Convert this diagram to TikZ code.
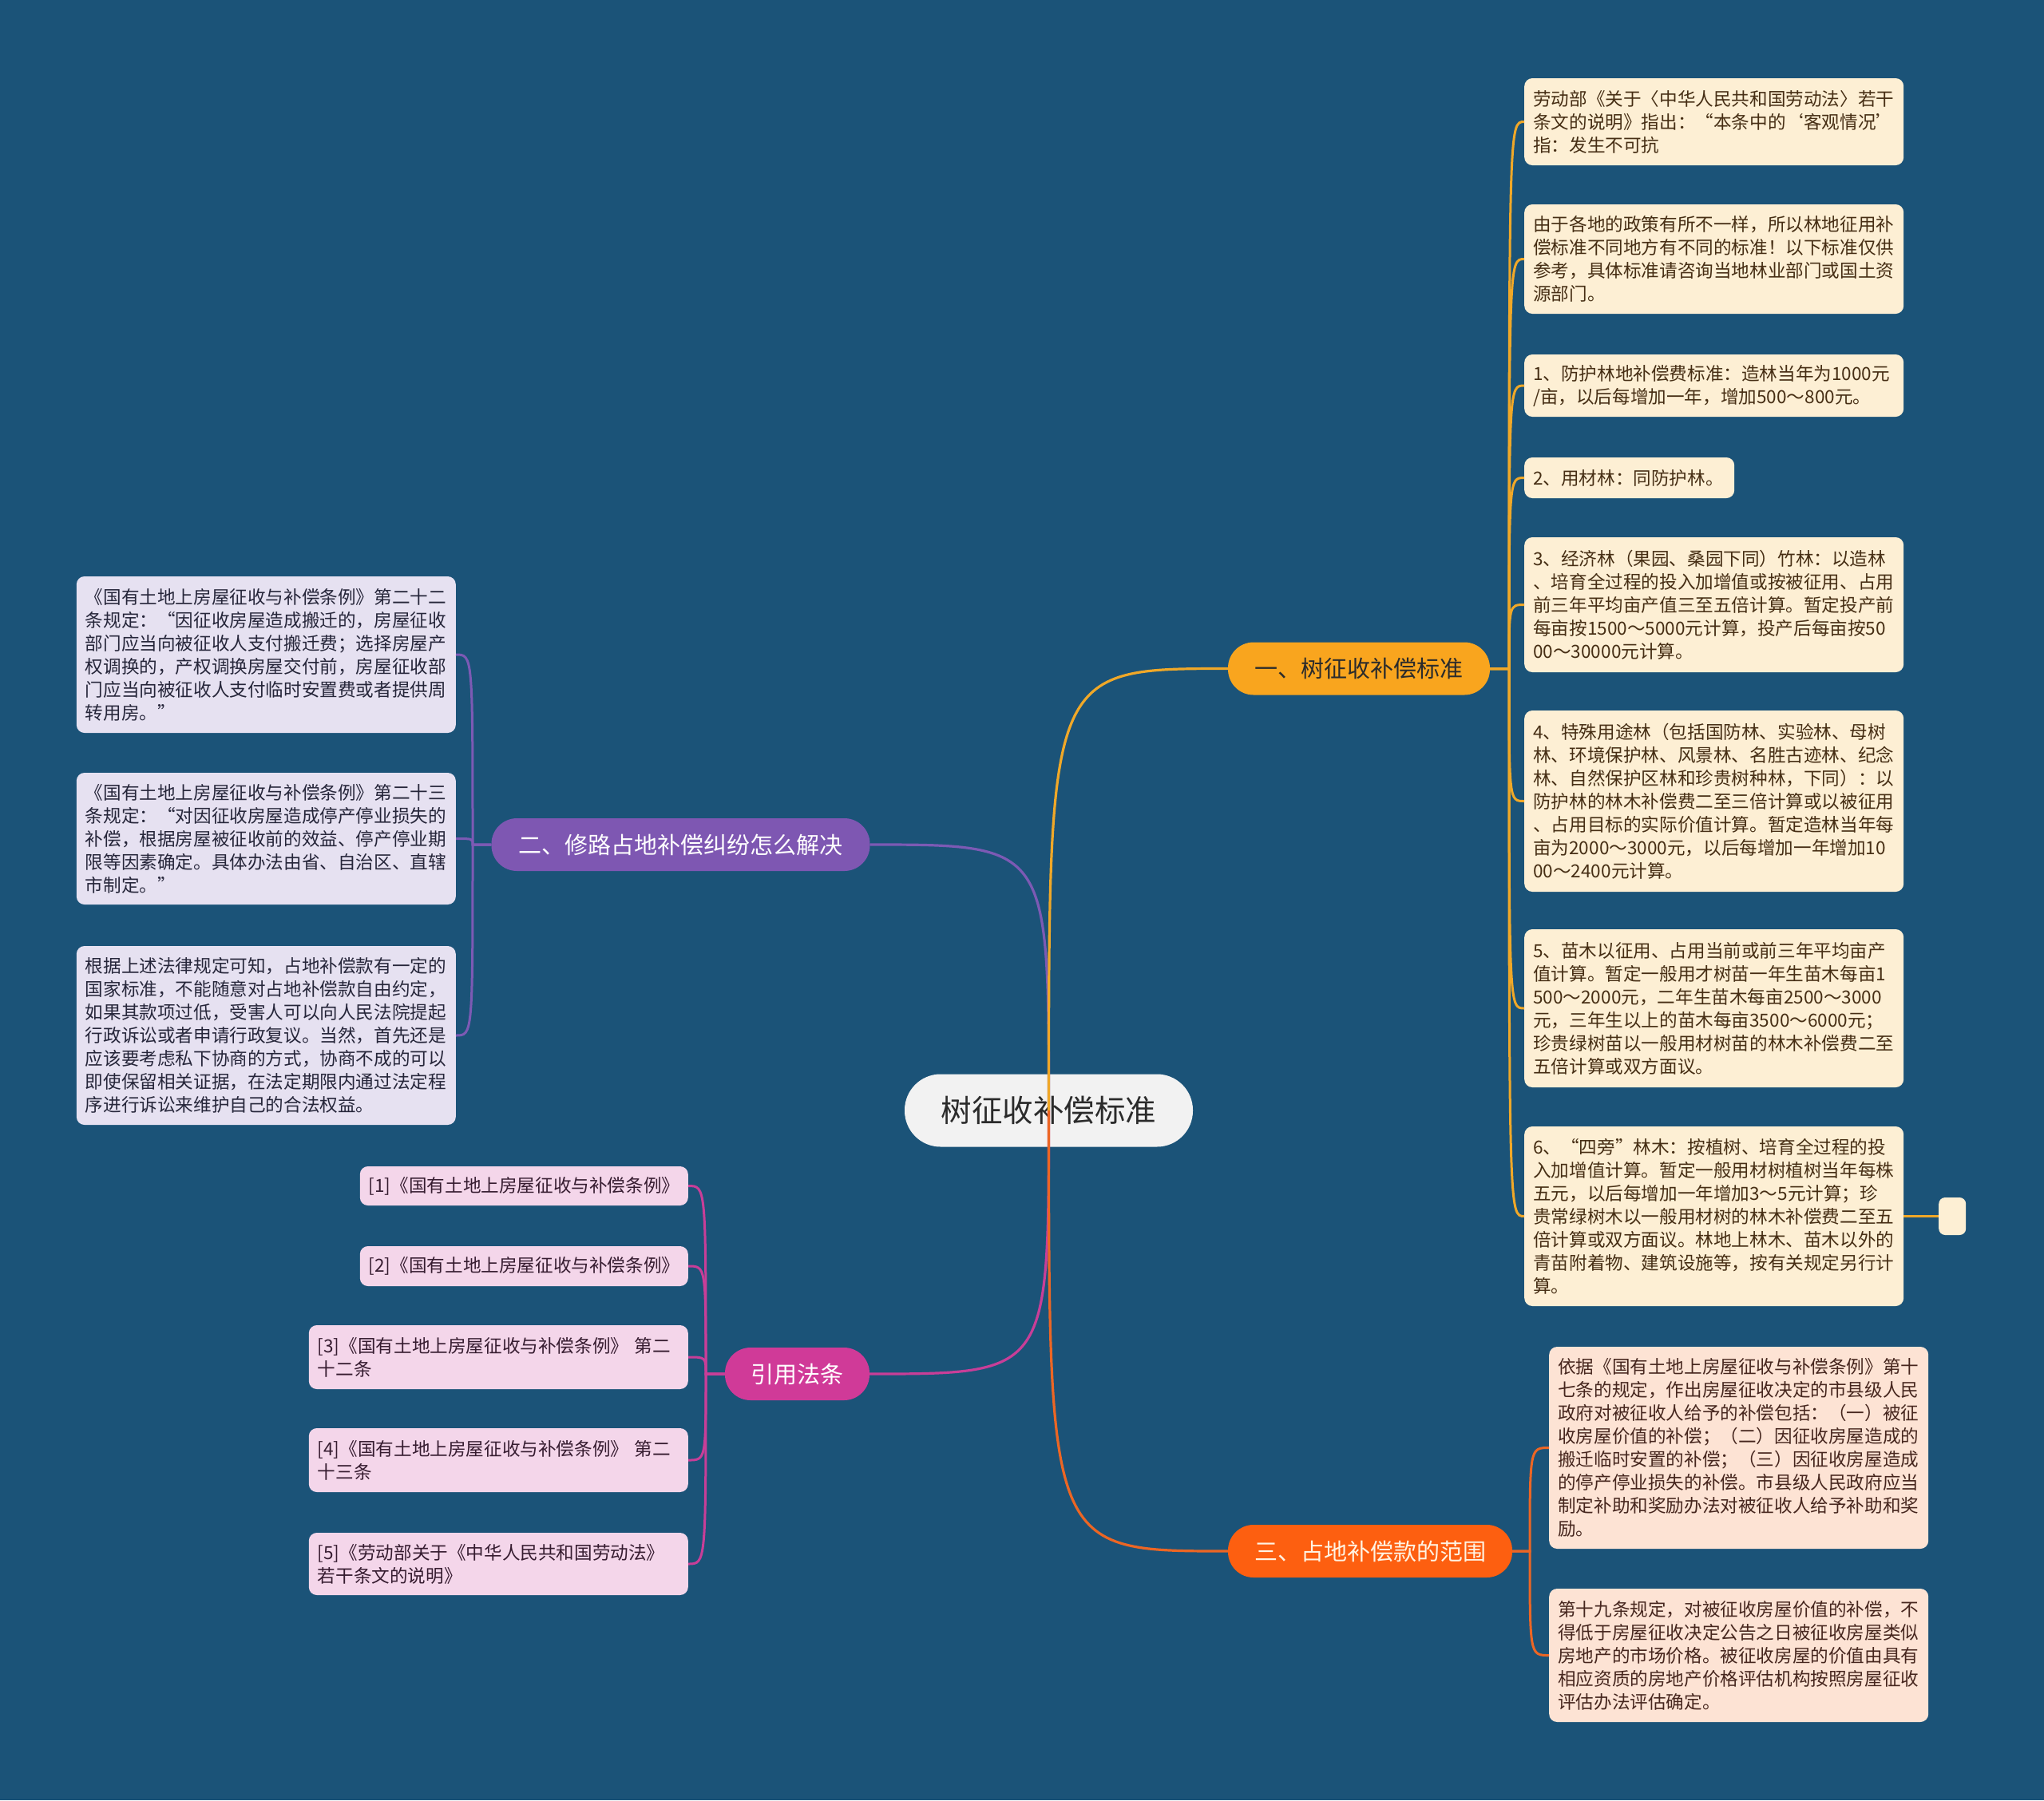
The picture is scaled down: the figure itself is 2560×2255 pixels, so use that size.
\documentclass[tikz,border=0pt]{standalone}
\usepackage{fontspec}
\setmainfont{Noto Sans CJK SC}
\definecolor{bgc}{RGB}{27,83,120}
\definecolor{rootfill}{RGB}{242,242,242}
\definecolor{roottext}{RGB}{43,43,43}
\definecolor{cA}{RGB}{249,165,30}
\definecolor{cB}{RGB}{126,87,178}
\definecolor{cC}{RGB}{253,95,16}
\definecolor{cD}{RGB}{208,58,152}
\definecolor{lineA}{RGB}{240,168,40}
\definecolor{lineB}{RGB}{124,90,180}
\definecolor{lineC}{RGB}{236,102,36}
\definecolor{lineD}{RGB}{200,62,152}
\definecolor{leafA}{RGB}{253,239,212}
\definecolor{leafAt}{RGB}{70,46,20}
\definecolor{leafB}{RGB}{230,225,241}
\definecolor{leafBt}{RGB}{38,38,58}
\definecolor{leafC}{RGB}{253,227,212}
\definecolor{leafCt}{RGB}{70,38,30}
\definecolor{leafD}{RGB}{244,214,234}
\definecolor{leafDt}{RGB}{54,28,48}
\begin{document}
\begin{tikzpicture}[x=1pt,y=-1pt,
  rootbox/.style={rectangle, rounded corners=45pt, fill=rootfill, text=roottext,
    minimum width=361pt, minimum height=91pt, inner sep=0pt,
    font=\fontsize{38.5}{44}\selectfont},
  branchbox/.style={rectangle, rounded corners=32pt, minimum height=66pt, inner sep=0pt,
    font=\fontsize{29}{34}\selectfont},
  leaf/.style={rectangle, rounded corners=10pt, inner xsep=11pt, inner ysep=8pt,
    align=left, text width=453pt, font=\fontsize{22.6}{29}\selectfont},
  leafa/.style={leaf, fill=leafA, text=leafAt, anchor=west},
  leafb/.style={leaf, fill=leafB, text=leafBt, anchor=east},
  leafc/.style={leaf, fill=leafC, text=leafCt, anchor=west},
  leafd/.style={leaf, fill=leafD, text=leafDt, anchor=east},
  link/.style={line width=3pt},
  rootlink/.style={line width=3.2pt}
]
\useasboundingbox (0,0) rectangle (2560,2255);
\fill[bgc] (0,0) rectangle (2560,2255);

% ---------- root and main branches ----------
\node[rootbox] (root) at (1313.5,1391) {树征收补偿标准};
\node[branchbox, fill=cA, text=roottext, minimum width=328pt] (b1) at (1702,837.5) {一、树征收补偿标准};
\node[branchbox, fill=cB, text=white, minimum width=474pt] (b2) at (852.5,1058) {二、修路占地补偿纠纷怎么解决};
\node[branchbox, fill=cC, text={rgb,255:red,255;green,243;blue,226}, minimum width=356pt] (b3) at (1716,1943) {三、占地补偿款的范围};
\node[branchbox, fill=cD, text=white, minimum width=181pt] (b4) at (998.5,1721) {引用法条};

% ---------- branch 1 leaves ----------
\node[leafa, minimum height=109pt] (a1) at (1909,152.5) {劳动部《关于〈中华人民共和国劳动法〉若干\\条文的说明》指出：“本条中的‘客观情况’\\指：发生不可抗};
\node[leafa, minimum height=137pt] (a2) at (1909,324.5) {由于各地的政策有所不一样，所以林地征用补\\偿标准不同地方有不同的标准！以下标准仅供\\参考，具体标准请咨询当地林业部门或国土资\\源部门。};
\node[leafa, minimum height=78pt] (a3) at (1909,483) {1、防护林地补偿费标准：造林当年为1000元\\/亩，以后每增加一年，增加500～800元。};
\node[leafa, minimum height=51pt, text width=241pt] (a4) at (1909,598.5) {2、用材林：同防护林。};
\node[leafa, minimum height=169pt] (a5) at (1909,757.5) {3、经济林（果园、桑园下同）竹林：以造林\\、培育全过程的投入加增值或按被征用、占用\\前三年平均亩产值三至五倍计算。暂定投产前\\每亩按1500～5000元计算，投产后每亩按50\\00～30000元计算。};
\node[leafa, minimum height=227pt] (a6) at (1909,1003.5) {4、特殊用途林（包括国防林、实验林、母树\\林、环境保护林、风景林、名胜古迹林、纪念\\林、自然保护区林和珍贵树种林，下同）：以\\防护林的林木补偿费二至三倍计算或以被征用\\、占用目标的实际价值计算。暂定造林当年每\\亩为2000～3000元，以后每增加一年增加10\\00～2400元计算。};
\node[leafa, minimum height=198pt] (a7) at (1909,1263) {5、苗木以征用、占用当前或前三年平均亩产\\值计算。暂定一般用才树苗一年生苗木每亩1\\500～2000元，二年生苗木每亩2500～3000\\元，三年生以上的苗木每亩3500～6000元；\\珍贵绿树苗以一般用材树苗的林木补偿费二至\\五倍计算或双方面议。};
\node[leafa, minimum height=225pt] (a8) at (1909,1523.5) {6、“四旁”林木：按植树、培育全过程的投\\入加增值计算。暂定一般用材树植树当年每株\\五元，以后每增加一年增加3～5元计算；珍\\贵常绿树木以一般用材树的林木补偿费二至五\\倍计算或双方面议。林地上林木、苗木以外的\\青苗附着物、建筑设施等，按有关规定另行计\\算。};
\node[rectangle, rounded corners=8pt, fill=leafA, anchor=west, minimum width=34pt, minimum height=47pt, inner sep=0pt] (a9) at (2428,1523.5) {};

% ---------- branch 2 leaves ----------
\node[leafb, minimum height=196pt] (k1) at (571,820) {《国有土地上房屋征收与补偿条例》第二十二\\条规定：“因征收房屋造成搬迁的，房屋征收\\部门应当向被征收人支付搬迁费；选择房屋产\\权调换的，产权调换房屋交付前，房屋征收部\\门应当向被征收人支付临时安置费或者提供周\\转用房。”};
\node[leafb, minimum height=165pt] (k2) at (571,1050.5) {《国有土地上房屋征收与补偿条例》第二十三\\条规定：“对因征收房屋造成停产停业损失的\\补偿，根据房屋被征收前的效益、停产停业期\\限等因素确定。具体办法由省、自治区、直辖\\市制定。”};
\node[leafb, minimum height=224pt] (k3) at (571,1297) {根据上述法律规定可知，占地补偿款有一定的\\国家标准，不能随意对占地补偿款自由约定，\\如果其款项过低，受害人可以向人民法院提起\\行政诉讼或者申请行政复议。当然，首先还是\\应该要考虑私下协商的方式，协商不成的可以\\即使保留相关证据，在法定期限内通过法定程\\序进行诉讼来维护自己的合法权益。};

% ---------- branch 3 leaves ----------
\node[leafc, minimum height=253pt] (c1) at (1940,1813.5) {依据《国有土地上房屋征收与补偿条例》第十\\七条的规定，作出房屋征收决定的市县级人民\\政府对被征收人给予的补偿包括：（一）被征\\收房屋价值的补偿；（二）因征收房屋造成的\\搬迁临时安置的补偿；（三）因征收房屋造成\\的停产停业损失的补偿。市县级人民政府应当\\制定补助和奖励办法对被征收人给予补助和奖\\励。};
\node[leafc, minimum height=167pt] (c2) at (1940,2073.5) {第十九条规定，对被征收房屋价值的补偿，不\\得低于房屋征收决定公告之日被征收房屋类似\\房地产的市场价格。被征收房屋的价值由具有\\相应资质的房地产价格评估机构按照房屋征收\\评估办法评估确定。};

% ---------- branch 4 leaves ----------
\node[leafd, minimum height=49pt, text width=389pt] (d1) at (862,1485.5) {[1]《国有土地上房屋征收与补偿条例》};
\node[leafd, minimum height=50pt, text width=389pt] (d2) at (862,1586) {[2]《国有土地上房屋征收与补偿条例》};
\node[leafd, minimum height=80pt] (d3) at (862,1700) {[3]《国有土地上房屋征收与补偿条例》 第二\\十二条};
\node[leafd, minimum height=80pt] (d4) at (862,1829) {[4]《国有土地上房屋征收与补偿条例》 第二\\十三条};
\node[leafd, minimum height=78pt] (d5) at (862,1959) {[5]《劳动部关于《中华人民共和国劳动法》\\若干条文的说明》};

% ---------- spine points ----------
\coordinate (s1) at (1890,837.5);
\coordinate (s2) at (592,1058);
\coordinate (s3) at (1916,1943);
\coordinate (s4) at (884,1721);

% ---------- leaf connectors ----------
\foreach \n in {a1,a2,a3,a4,a5,a6,a7,a8}
  \draw[link, lineA] (b1.east) -- (s1) .. controls (s1 |- \n.west) .. (\n.west);
\draw[link, lineA] (a8.east) -- (a9.west);
\foreach \n in {k1,k2,k3}
  \draw[link, lineB] (b2.west) -- (s2) .. controls (s2 |- \n.east) .. (\n.east);
\foreach \n in {c1,c2}
  \draw[link, lineC] (b3.east) -- (s3) .. controls (s3 |- \n.west) .. (\n.west);
\foreach \n in {d1,d2,d3,d4,d5}
  \draw[link, lineD] (b4.west) -- (s4) .. controls (s4 |- \n.east) .. (\n.east);

% ---------- root connectors (drawn over the root, as in the original) ----------
\draw[rootlink, lineB] (root.center) .. controls (root.center |- b2.east) .. (b2.east);
\draw[rootlink, lineD] (root.center) .. controls (root.center |- b4.east) .. (b4.east);
\draw[rootlink, lineC] (root.center) .. controls (root.center |- b3.west) .. (b3.west);
\draw[rootlink, lineA] (root.center) .. controls (root.center |- b1.west) .. (b1.west);
\end{tikzpicture}
\end{document}
